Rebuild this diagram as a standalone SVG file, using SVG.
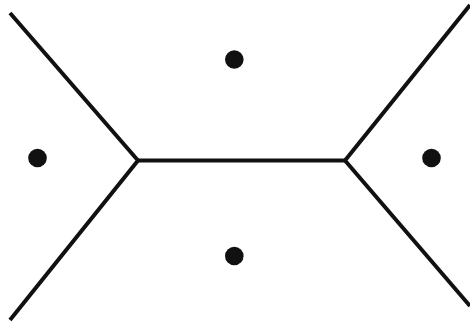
<svg xmlns="http://www.w3.org/2000/svg" width="470" height="328" viewBox="0 0 470 328">
<style>
.e{stroke:#111;stroke-width:4;fill:none;stroke-linejoin:round}
.s{fill:#111}
</style>
<rect width="470" height="328" fill="#fff"/>
<g id="connectors">
<polyline class="e" points="10,13 138,160.5 10,320"/>
<line class="e" x1="138" y1="160.5" x2="345" y2="160.5"/>
<polyline class="e" points="470,5 345,160.5 470,306"/>
</g>
<g id="site-left"><circle class="s" cx="37.5" cy="158" r="9.3"/></g>
<g id="site-top"><circle class="s" cx="234.3" cy="59.5" r="9.3"/></g>
<g id="site-right"><circle class="s" cx="431.5" cy="158" r="9.3"/></g>
<g id="site-bottom"><circle class="s" cx="234.3" cy="256" r="9.3"/></g>
</svg>
